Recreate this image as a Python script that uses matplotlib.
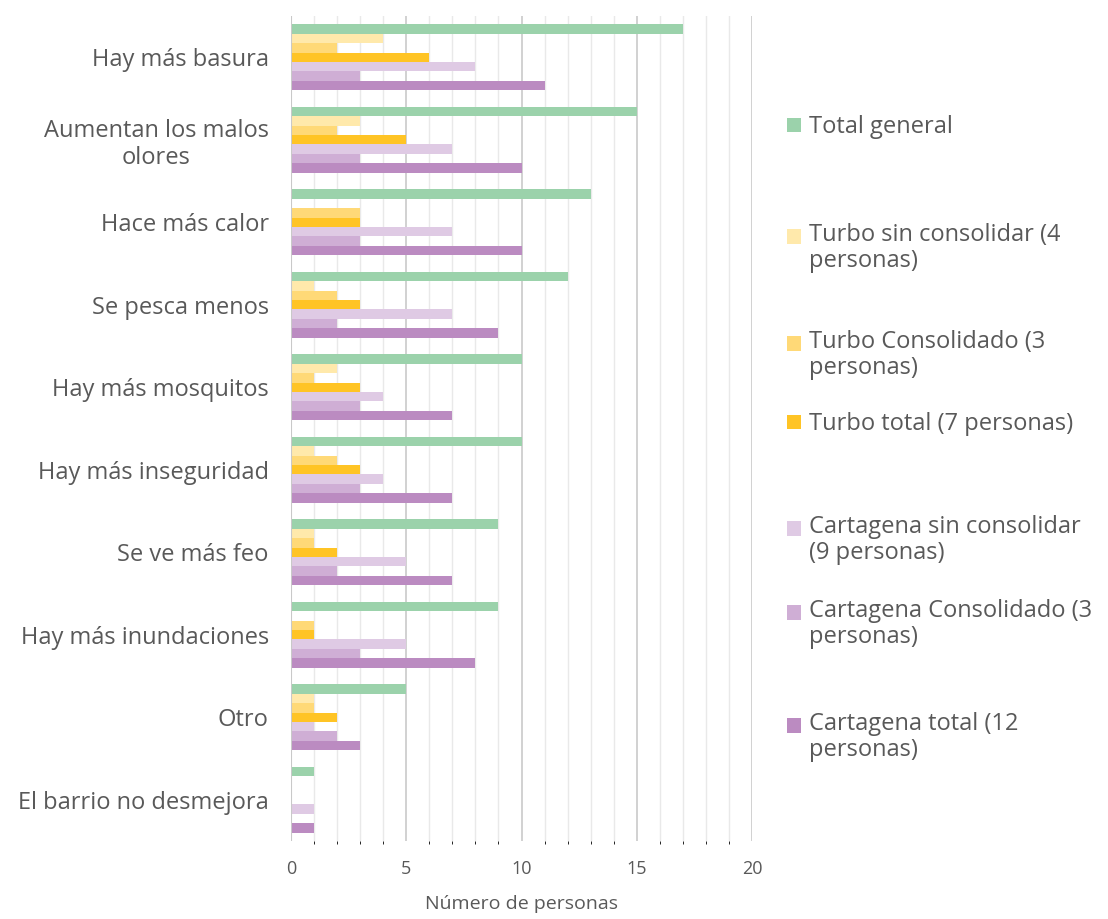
import numpy as np
import matplotlib
matplotlib.use("Agg")
import matplotlib.pyplot as plt
from matplotlib.patches import Rectangle
from matplotlib.legend_handler import HandlerPatch

# グラフの書式設定 --------------------------------------------------------------
plt.rcParams["font.family"] = ["Open Sans", "DejaVu Sans"]
plt.rcParams["text.color"] = "#595959"

TXT = "#595959"
FS = 17
# -----------------------------------------------------------------------------

categories = ["Hay más basura", "Aumentan los malos\nolores", "Hace más calor",
              "Se pesca menos", "Hay más mosquitos", "Hay más inseguridad",
              "Se ve más feo", "Hay más inundaciones", "Otro",
              "El barrio no desmejora"]

series_names = ["Total general",
                "Turbo sin consolidar (4\npersonas)",
                "Turbo Consolidado (3\npersonas)",
                "Turbo total (7 personas)",
                "Cartagena sin consolidar\n(9 personas)",
                "Cartagena Consolidado (3\npersonas)",
                "Cartagena total (12\npersonas)"]

total_general = [17, 15, 13, 12, 10, 10, 9, 9, 5, 1]
turbo_sin = [4, 3, 0, 1, 2, 1, 1, 0, 1, 0]
turbo_cons = [2, 2, 3, 2, 1, 2, 1, 1, 1, 0]
turbo_total = [6, 5, 3, 3, 3, 3, 2, 1, 2, 0]
cart_sin = [8, 7, 7, 7, 4, 4, 5, 5, 1, 1]
cart_cons = [3, 3, 3, 2, 3, 3, 2, 3, 2, 0]
cart_total = [11, 10, 10, 9, 7, 7, 7, 8, 3, 1]

series = [total_general, turbo_sin, turbo_cons, turbo_total,
          cart_sin, cart_cons, cart_total]
colors = ["#9bd2ab", "#ffe9ab", "#ffd977", "#ffc425",
          "#dfcae4", "#cfaed5", "#bb8bc1"]

fig = plt.figure(figsize=(11.08, 9.19), dpi=100)
ax = fig.add_axes([291/1108, 1-841/919, 461/1108, 825/919])

h = 0.115
y = np.arange(len(categories))
bars = []
for j, (vals, c) in enumerate(zip(series, colors)):
    b = ax.barh(y + (j - 3)*h, vals, height=h, color=c, zorder=3)
    bars.append(b)

ax.set_ylim(len(categories) - 0.5, -0.5)
ax.set_xlim(0, 20)
ax.set_yticks(y)
ax.set_yticklabels(categories, fontsize=FS, color=TXT, ha="right",
                   multialignment="center")
ax.tick_params(axis="y", length=0, pad=16)

ax.set_xticks([0, 5, 10, 15, 20])
ax.set_xticks(np.arange(0, 21, 1), minor=True)
ax.tick_params(axis="x", length=0, pad=14, labelsize=13, labelcolor=TXT)
ax.grid(axis="x", which="minor", color="#e9e9e9", lw=1.0, zorder=0)
ax.grid(axis="x", which="major", color="#c9c9c9", lw=1.2, zorder=1)
for s in ax.spines.values():
    s.set_visible(False)
ax.axvline(0, color="#c9c9c9", lw=1.5, zorder=4)

ax.set_xlabel("Número de personas", fontsize=14, color=TXT, labelpad=12)


# legend -- one per entry so the vertical spacing follows the original
def square(offset):
    def f(legend, orig_handle, xdescent, ydescent, width, height, fontsize):
        s = 0.6*fontsize
        return Rectangle((-xdescent, -ydescent + height/2 - s/2 + offset*fontsize), s, s)
    return f


leg_y = [127, 236, 343, 424, 528, 612, 725]   # first line centre (px)
for b, name, yy in zip(bars, series_names, leg_y):
    two = "\n" in name
    off = 0.52 if two else 0.0
    cy = yy + (12 if two else 0)
    hnd = b.patches[0]
    lg = fig.legend([hnd], [name], loc="center left",
                    bbox_to_anchor=(787/1108, 1 - cy/919),
                    frameon=False, fontsize=FS, borderpad=0, borderaxespad=0,
                    handlelength=0.6, handletextpad=0.35,
                    handler_map={hnd: HandlerPatch(patch_func=square(off))})
    for t in lg.get_texts():
        t.set_color(TXT)
        t.set_linespacing(1.08)

fig.savefig("out.png", dpi=100)
